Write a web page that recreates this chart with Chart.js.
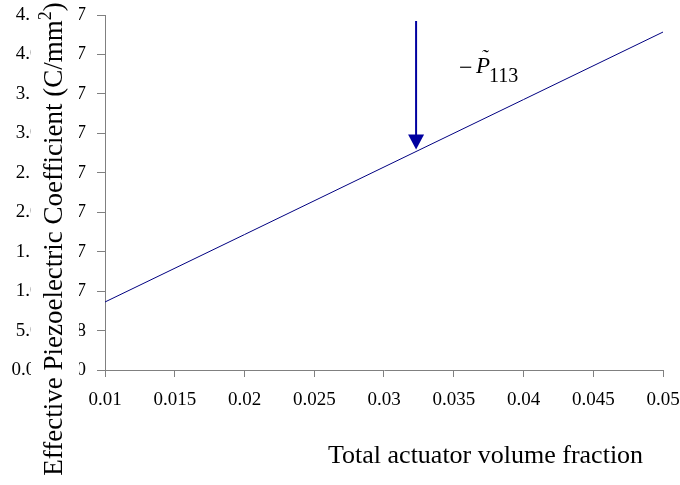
<!DOCTYPE html>
<html>
<head>
<meta charset="utf-8">
<script src="https://cdn.jsdelivr.net/npm/chart.js@4.4.0/dist/chart.umd.min.js"></script>
<style>
  html, body { margin: 0; padding: 0; background: #fff; }
</style>
</head>
<body>
<canvas id="chart" width="680" height="485"></canvas>
<script>
// Values
const volumeFraction = [0.01, 0.02, 0.03, 0.04, 0.05];
const coefficient = [8.62e-8, 1.717e-7, 2.573e-7, 3.428e-7, 4.284e-7];

const xTitle = "Total actuator volume fraction";
const yTitle = "Effective Piezoelectric Coefficient (C/mm";
const arrowX = 0.0323; // where the arrow points on the line

const serif = "'Liberation Serif', 'Times New Roman', serif";
const axisGray = "#808080";
const lineBlue = "#000080";
const arrowBlue = "#0000a0";

// 4.5e-7 -> "4.50E-07"
const sci = (v) => {
  if (Math.abs(v) < 1e-15) return "0.00E+00";
  const [m, e] = v.toExponential(2).split("e");
  const n = parseInt(e, 10);
  return m + "E" + (n < 0 ? "-" : "+") + String(Math.abs(n)).padStart(2, "0");
};

// Axis titles, arrow and label drawn on top
const overlay = {
  id: "overlay",
  afterDraw(chart) {
    const { ctx, scales } = chart;
    const xs = scales.x, ys = scales.y;
    ctx.save();

    // y title sits over the middle of the tick labels
    ctx.fillStyle = "#fff";
    ctx.fillRect(31, 0, 48, 480);
    ctx.fillStyle = "#000";
    const mainFont = "27px " + serif;
    const supFont = "18px " + serif;
    ctx.font = mainFont;
    const w1 = ctx.measureText(yTitle).width;
    const w3 = ctx.measureText(")").width;
    ctx.font = supFont;
    const w2 = ctx.measureText("2").width;
    const total = w1 + w2 + w3;
    ctx.translate(62, 239);
    ctx.rotate(-Math.PI / 2);
    ctx.textBaseline = "alphabetic";
    ctx.textAlign = "left";
    let px = -total / 2;
    ctx.font = mainFont;
    ctx.fillText(yTitle, px, 0);
    px += w1;
    ctx.font = supFont;
    ctx.fillText("2", px, -11);
    px += w2;
    ctx.font = mainFont;
    ctx.fillText(")", px, 0);
    ctx.setTransform(1, 0, 0, 1, 0, 0);

    // x title
    ctx.font = "26px " + serif;
    ctx.fillText(xTitle, 328, 463);

    // arrow down onto the line
    const ax = xs.getPixelForValue(arrowX);
    const onLine = coefficient[0] + (arrowX - volumeFraction[0]) *
      (coefficient[4] - coefficient[0]) / (volumeFraction[4] - volumeFraction[0]);
    const tipY = ys.getPixelForValue(onLine) - 2;
    const topY = 21;
    ctx.strokeStyle = arrowBlue;
    ctx.fillStyle = arrowBlue;
    ctx.lineWidth = 2;
    ctx.beginPath();
    ctx.moveTo(ax, topY);
    ctx.lineTo(ax, tipY - 14);
    ctx.stroke();
    ctx.beginPath();
    ctx.moveTo(ax - 8, tipY - 15);
    ctx.lineTo(ax + 8, tipY - 15);
    ctx.lineTo(ax, tipY);
    ctx.closePath();
    ctx.fill();

    // label -P~113
    ctx.fillStyle = "#000";
    ctx.font = "24px " + serif;
    ctx.fillText("\u2212", 459, 75);
    ctx.font = "italic 23px " + serif;
    ctx.fillText("P", 476, 73);
    ctx.font = "italic 20px " + serif;
    ctx.fillText("\u02DC", 481, 64);
    ctx.font = "20px " + serif;
    ctx.fillText("113", 489, 82);

    ctx.restore();
  }
};

new Chart(document.getElementById("chart"), {
  type: "line",
  data: {
    datasets: [{
      data: volumeFraction.map((x, i) => ({ x, y: coefficient[i] })),
      borderColor: lineBlue,
      borderWidth: 1,
      pointRadius: 0,
      fill: false,
      tension: 0,
    }],
  },
  plugins: [overlay],
  options: {
    responsive: false,
    animation: false,
    layout: { padding: { left: 0, right: 17, top: 15, bottom: 0 } },
    plugins: {
      legend: { display: false },
      tooltip: { enabled: false },
    },
    scales: {
      x: {
        type: "linear",
        min: 0.01,
        max: 0.05,
        border: { color: axisGray, width: 1 },
        grid: { drawOnChartArea: false, color: axisGray, tickLength: 7 },
        ticks: {
          stepSize: 0.005,
          padding: 12,
          color: "#000",
          font: { family: serif, size: 19 },
          maxRotation: 0,
          callback: (v) => String(+v.toFixed(3)),
        },
        afterFit: (s) => { s.height = 115; s.paddingLeft = 0; s.paddingRight = 0; },
      },
      y: {
        min: 0,
        max: 4.5e-7,
        border: { color: axisGray, width: 1 },
        grid: { drawOnChartArea: false, color: axisGray, tickLength: 8 },
        ticks: {
          stepSize: 5e-8,
          padding: 11,
          color: "#000",
          font: { family: serif, size: 19 },
          callback: (v) => sci(v),
        },
        afterFit: (s) => { s.width = 105; s.paddingTop = 0; s.paddingBottom = 0; },
      },
    },
  },
});
</script>
</body>
</html>
